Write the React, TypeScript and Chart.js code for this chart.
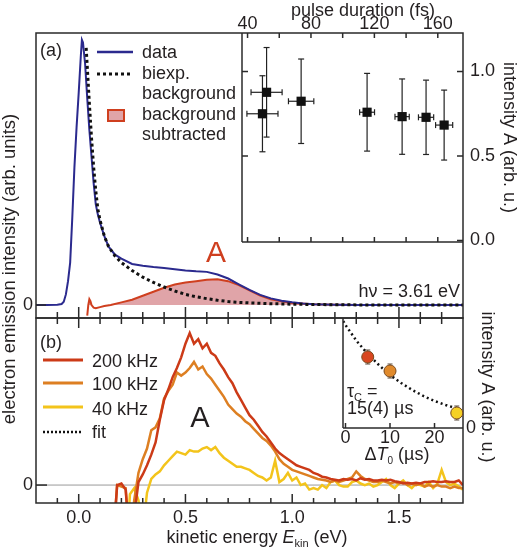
import React, { useEffect, useRef } from "react";
import { Chart, registerables } from "chart.js";

Chart.register(...registerables);

const FONT = '"Liberation Sans", Arial, Helvetica, sans-serif';
const INK = "#231f20";
const FRAME = "#2a2a2a";
const NAVY = "#2b2a8e";
const RED_A = "#cf3f1f";
const PINK = "#e0a4a8";
const C200 = "#cc3a17";
const C100 = "#dd7f22";
const C40 = "#f3c41b";

// ---------- panel (a): photoemission spectrum ----------
const energyData = [-0.2, -0.15, -0.1, -0.08, -0.07, -0.06, -0.05, -0.04, -0.03, -0.02, -0.01, 0.0, 0.01, 0.015, 0.02, 0.03, 0.04, 0.05, 0.06, 0.07, 0.08, 0.09, 0.1, 0.12, 0.14, 0.17, 0.2, 0.25, 0.3, 0.35, 0.4, 0.45, 0.5, 0.55, 0.6, 0.65, 0.7, 0.75, 0.8, 0.85, 0.9, 0.95, 1.0, 1.05, 1.1, 1.2, 1.3, 1.4, 1.5, 1.6, 1.7, 1.8];
const intensityData = [0, 0, 0.001, 0.004, 0.012, 0.04, 0.09, 0.16, 0.33, 0.52, 0.67, 0.8, 0.94, 1.0, 0.99, 0.91, 0.78, 0.66, 0.56, 0.46, 0.38, 0.34, 0.31, 0.26, 0.22, 0.19, 0.175, 0.155, 0.148, 0.143, 0.14, 0.135, 0.13, 0.127, 0.125, 0.115, 0.1, 0.078, 0.057, 0.038, 0.025, 0.016, 0.01, 0.006, 0.003, 0.001, 0, 0, 0, 0, 0, 0];

const energyBiexp = [0.035, 0.04, 0.05, 0.06, 0.07, 0.08, 0.09, 0.1, 0.12, 0.14, 0.17, 0.2, 0.25, 0.3, 0.35, 0.4, 0.45, 0.5, 0.55, 0.6, 0.65, 0.7, 0.75, 0.8, 0.9, 1.0, 1.1, 1.2, 1.4, 1.6, 1.8];
const biexpBackground = [0.97, 0.9, 0.76, 0.63, 0.52, 0.43, 0.36, 0.32, 0.26, 0.22, 0.185, 0.16, 0.13, 0.105, 0.085, 0.068, 0.053, 0.04, 0.031, 0.024, 0.018, 0.013, 0.01, 0.008, 0.005, 0.003, 0.002, 0.001, 0, 0, 0];

const energySubtracted = [0.04, 0.045, 0.05, 0.055, 0.06, 0.07, 0.08, 0.1, 0.12, 0.15, 0.2, 0.25, 0.3, 0.35, 0.4, 0.45, 0.5, 0.55, 0.6, 0.65, 0.7, 0.75, 0.8, 0.85, 0.9, 0.95, 1.0, 1.1, 1.2, 1.3, 1.4, 1.5, 1.6, 1.7, 1.8];
const backgroundSubtracted = [-0.04, 0.0, 0.022, 0.015, 0.0, -0.01, -0.012, -0.008, -0.004, 0.0, 0.01, 0.02, 0.035, 0.05, 0.065, 0.077, 0.085, 0.09, 0.095, 0.097, 0.09, 0.075, 0.055, 0.036, 0.022, 0.014, 0.008, 0.003, 0.001, 0, 0, 0, 0, 0, 0];

// ---------- inset (a): intensity A vs pulse duration ----------
const pulseDuration = [49.4, 52, 73.8, 115.4, 137.5, 152.6, 164];
const pulseDurationErr = [9.8, 9.8, 8, 4.7, 4.5, 4.8, 5.4];
const intensityA = [0.75, 0.877, 0.824, 0.759, 0.733, 0.729, 0.683];
const intensityAErr = [0.225, 0.265, 0.25, 0.23, 0.223, 0.22, 0.207];
const pulseTicks = [40, 80, 120, 160];
const insetATicks = [0, 0.5, 1.0];

// ---------- panel (b): repetition-rate dependence ----------
const energyB = [
  0.16, 0.18, 0.2, 0.22, 0.24, 0.26, 0.28, 0.3, 0.32, 0.34,
  0.36, 0.38, 0.4, 0.42, 0.44, 0.46, 0.48, 0.5, 0.52, 0.54,
  0.56, 0.58, 0.6, 0.62, 0.64, 0.66, 0.68, 0.7, 0.72, 0.74,
  0.76, 0.78, 0.8, 0.82, 0.84, 0.86, 0.88, 0.9, 0.92, 0.94,
  0.96, 0.98, 1.0, 1.02, 1.04, 1.06, 1.08, 1.1, 1.12, 1.14,
  1.16, 1.18, 1.2, 1.22, 1.24, 1.26, 1.28, 1.3, 1.32, 1.34,
  1.36, 1.38, 1.4, 1.42, 1.44, 1.46, 1.48, 1.5, 1.52, 1.54,
  1.56, 1.58, 1.6, 1.62, 1.64, 1.66, 1.68, 1.7, 1.72, 1.74,
  1.76, 1.78, 1.8,
];
const rate200kHz = [
  -0.4, 0.0, 0.01, -0.03, -0.4, -0.2, 0.02, 0.07, 0.13, 0.2,
  0.28, 0.43, 0.56, 0.63, 0.71, 0.77, 0.84, 0.93, 1.0, 0.93,
  0.96, 0.9, 0.93, 0.87, 0.85, 0.8, 0.76, 0.71, 0.67, 0.61,
  0.56, 0.51, 0.46, 0.43, 0.39, 0.35, 0.32, 0.28, 0.24, 0.21,
  0.19, 0.17, 0.15, 0.13, 0.12, 0.11, 0.1, 0.08, 0.07, 0.055,
  0.05, 0.04, 0.035, 0.03, 0.04, 0.035, 0.04, 0.03, 0.045, 0.035,
  0.04, 0.03, 0.03, 0.035, 0.03, 0.035, 0.025, 0.02, 0.01, 0.015,
  0.01, 0.015, 0.01, 0.02, 0.02, 0.025, 0.02, 0.02, 0.025, 0.02,
  0.02, 0.03, 0.0,
];
const rate100kHz = [
  -0.4, 0.0, -0.01, -0.02, -0.4, -0.1, 0.08, 0.17, 0.24, 0.36,
  0.38, 0.44, 0.57, 0.62, 0.66, 0.74, 0.72, 0.74, 0.77, 0.81,
  0.76, 0.78, 0.73, 0.7, 0.66, 0.62, 0.58, 0.53, 0.5, 0.47,
  0.45, 0.42, 0.4, 0.37, 0.34, 0.31, 0.29, 0.26, 0.22, 0.17,
  0.14, 0.12, 0.1, 0.09, 0.08, 0.07, 0.06, 0.05, 0.04, 0.035,
  0.03, 0.02, 0.03, 0.02, 0.03, 0.04, 0.05, 0.09, 0.06, 0.04,
  0.03, 0.02, 0.02, 0.03, 0.02, 0.01, 0.02, 0.01, 0.02, 0.0,
  0.01, 0.0, 0.01, -0.01, 0.0, -0.01, 0.0, -0.01, -0.01, -0.02,
  -0.01, -0.02, -0.02,
];
const rate40kHz = [
  -0.5, -0.5, -0.5, -0.5, -0.06, -0.02, -0.1, -0.3, -0.05, 0.04,
  0.07, 0.09, 0.13, 0.16, 0.19, 0.22, 0.21, 0.2, 0.23, 0.22,
  0.22, 0.24, 0.25, 0.23, 0.25, 0.21, 0.18, 0.16, 0.14, 0.12,
  0.12, 0.11, 0.1, 0.08, 0.06, 0.05, 0.03, 0.05, 0.16, 0.02,
  0.04, 0.08, 0.03, 0.05, 0.0, 0.01, -0.03, -0.02, -0.03, 0.0,
  -0.02, 0.02, 0.03, 0.0, -0.01, -0.01, 0.02, 0.03, 0.01, 0.0,
  0.01, -0.01, 0.0, 0.02, 0.04, 0.0, -0.02, 0.01, 0.03, 0.0,
  -0.02, 0.01, 0.0, -0.01, 0.02, -0.02, 0.01, 0.1, 0.02, 0.0,
  0.01, -0.01, -0.03,
];
const energyTicks = [0, 0.5, 1.0, 1.5];

// ---------- inset (b): intensity A vs ΔT0 ----------
const deltaT0 = [5, 10, 25];
const intensityB = [0.71, 0.57, 0.15];
const intensityBErr = [0.07, 0.07, 0.07];
const pointColorsB = ["#d8461f", "#e08a2c", "#f5d126"];
const fitT = [-0.5, 0, 2.5, 5, 7.5, 10, 12.5, 15, 17.5, 20, 22.5, 25];
const fitIntensity = [1.07, 1.03, 0.87, 0.74, 0.63, 0.53, 0.45, 0.38, 0.32, 0.27, 0.23, 0.195];
const deltaTicks = [0, 10, 20];

// ---------- helpers ----------
const pts = (xs: number[], ys: number[]) => xs.map((x, i) => ({ x, y: ys[i] }));
const tickFont = { family: FONT, size: 18, lineHeight: 1 };
const setTicks = (vals: number[]) => (s: any) => {
  s.ticks = vals.map((v) => ({ value: v }));
};
const fixW = (w: number) => (s: any) => {
  s.width = w;
};
const fixH = (h: number) => (s: any) => {
  s.height = h;
};
const noGrid = { display: false, drawTicks: false };
const noBorder = { display: false };

function seg(ctx: CanvasRenderingContext2D, x1: number, y1: number, x2: number, y2: number) {
  ctx.beginPath();
  ctx.moveTo(x1, y1);
  ctx.lineTo(x2, y2);
  ctx.stroke();
}

type Run = { t: string; size?: number; italic?: boolean; dy?: number };
function drawRuns(ctx: CanvasRenderingContext2D, parts: Run[], x: number, y: number, align = "left", color = INK) {
  ctx.save();
  ctx.fillStyle = color;
  ctx.textBaseline = "alphabetic";
  ctx.textAlign = "left";
  const fontOf = (p: Run) => `${p.italic ? "italic " : ""}${p.size ?? 18}px ${FONT}`;
  let total = 0;
  const widths = parts.map((p) => {
    ctx.font = fontOf(p);
    const w = ctx.measureText(p.t).width;
    total += w;
    return w;
  });
  let cx = align === "left" ? x : align === "center" ? x - total / 2 : x - total;
  parts.forEach((p, i) => {
    ctx.font = fontOf(p);
    ctx.fillText(p.t, cx, y + (p.dy ?? 0));
    cx += widths[i];
  });
  ctx.restore();
}

function drawText(
  ctx: CanvasRenderingContext2D,
  s: string,
  x: number,
  y: number,
  o: { size?: number; align?: CanvasTextAlign; color?: string; rotate?: number; baseline?: CanvasTextBaseline } = {}
) {
  ctx.save();
  ctx.font = `${o.size ?? 18}px ${FONT}`;
  ctx.fillStyle = o.color ?? INK;
  ctx.textAlign = o.align ?? "left";
  ctx.textBaseline = o.baseline ?? "alphabetic";
  ctx.translate(x, y);
  if (o.rotate) ctx.rotate(o.rotate);
  ctx.fillText(s, 0, 0);
  ctx.restore();
}

function xTicks(ctx: CanvasRenderingContext2D, scale: any, yEdge: number, dir: number, minor: number, major: number) {
  for (let k = -1; k <= 17; k++) {
    const px = scale.getPixelForValue(k / 10);
    const len = k % 5 === 0 ? major : minor;
    seg(ctx, px, yEdge, px, yEdge + dir * len);
  }
}

const baseOptions = (padding: any) => ({
  responsive: false,
  animation: false as const,
  devicePixelRatio: 1,
  events: [] as any[],
  layout: { padding },
  plugins: { legend: { display: false }, tooltip: { enabled: false }, title: { display: false } },
});

// ---------- chart configs ----------
function configTop(): any {
  const plugin = {
    id: "panelA",
    afterDraw(chart: any) {
      const { ctx, chartArea: a, scales } = chart;
      ctx.save();
      ctx.strokeStyle = FRAME;
      ctx.lineWidth = 1.5;
      ctx.strokeRect(a.left, a.top, a.right - a.left, a.bottom - a.top);
      xTicks(ctx, scales.x, a.bottom, -1, 6, 11);
      const y0 = scales.y.getPixelForValue(0);
      seg(ctx, a.left, y0, a.left + 10, y0);
      ctx.restore();

      drawText(ctx, "(a)", 40, 56);
      // legend
      ctx.save();
      ctx.strokeStyle = NAVY;
      ctx.lineWidth = 2.5;
      seg(ctx, 97, 52, 133, 52);
      ctx.strokeStyle = "#111";
      ctx.lineWidth = 3;
      ctx.setLineDash([3, 3]);
      seg(ctx, 97, 74, 133, 74);
      ctx.setLineDash([]);
      ctx.fillStyle = PINK;
      ctx.fillRect(108, 110, 16, 11);
      ctx.strokeStyle = RED_A;
      ctx.lineWidth = 2;
      ctx.strokeRect(108, 110, 16, 11);
      ctx.restore();
      drawText(ctx, "data", 142, 58);
      drawText(ctx, "biexp.", 142, 79);
      drawText(ctx, "background", 142, 99);
      drawText(ctx, "background", 142, 120);
      drawText(ctx, "subtracted", 142, 140);

      drawText(ctx, "A", 216, 262, { size: 30, align: "center", color: RED_A });
      drawText(ctx, "h\u03bd = 3.61 eV", 460, 297, { align: "right" });
    },
  };
  return {
    type: "line",
    data: {
      datasets: [
        {
          label: "biexp. background",
          data: pts(energyBiexp, biexpBackground),
          borderColor: "#111",
          borderWidth: 3,
          borderDash: [3, 3],
          pointRadius: 0,
          fill: false,
          order: 0,
        },
        {
          label: "data",
          data: pts(energyData, intensityData),
          borderColor: NAVY,
          borderWidth: 2,
          pointRadius: 0,
          fill: false,
          order: 1,
        },
        {
          label: "background subtracted",
          data: pts(energySubtracted, backgroundSubtracted),
          borderColor: RED_A,
          borderWidth: 2,
          pointRadius: 0,
          fill: { target: "origin", above: PINK, below: "rgba(0,0,0,0)" },
          order: 2,
        },
      ],
    },
    options: {
      ...baseOptions({ top: 33, left: 0, right: 57, bottom: 231 }),
      scales: {
        x: { type: "linear", display: false, min: -0.2, max: 1.8 },
        y: {
          type: "linear",
          position: "left",
          min: -0.049,
          max: 1.026,
          afterBuildTicks: setTicks([0]),
          afterFit: fixW(36),
          ticks: { font: tickFont, color: INK, padding: 3, callback: () => "0" },
          grid: noGrid,
          border: noBorder,
        },
      },
    },
    plugins: [plugin],
  };
}

function configBottom(): any {
  const plugin = {
    id: "panelB",
    beforeDatasetsDraw(chart: any) {
      const { ctx, chartArea: a, scales } = chart;
      const y0 = scales.y.getPixelForValue(0);
      ctx.save();
      ctx.strokeStyle = "#9a9a9a";
      ctx.lineWidth = 1;
      seg(ctx, a.left, y0, a.right, y0);
      ctx.restore();
    },
    afterDraw(chart: any) {
      const { ctx, chartArea: a, scales } = chart;
      ctx.save();
      ctx.strokeStyle = FRAME;
      ctx.lineWidth = 1.5;
      ctx.strokeRect(a.left, a.top, a.right - a.left, a.bottom - a.top);
      xTicks(ctx, scales.x, a.top, 1, 6, 10);
      xTicks(ctx, scales.x, a.bottom, -1, 5, 9);
      const y0 = scales.y.getPixelForValue(0);
      seg(ctx, a.left, y0, a.left + 11, y0);
      ctx.restore();

      drawText(ctx, "(b)", 40, 348);
      ctx.save();
      ctx.lineWidth = 3;
      ctx.strokeStyle = C200;
      seg(ctx, 43, 360, 83, 360);
      ctx.strokeStyle = C100;
      seg(ctx, 43, 383, 83, 383);
      ctx.strokeStyle = C40;
      seg(ctx, 43, 407, 83, 407);
      ctx.strokeStyle = "#111";
      ctx.lineWidth = 2.5;
      ctx.setLineDash([2, 2]);
      seg(ctx, 43, 432, 83, 432);
      ctx.restore();
      drawText(ctx, "200 kHz", 92, 367);
      drawText(ctx, "100 kHz", 92, 390);
      drawText(ctx, "40 kHz", 92, 415);
      drawText(ctx, "fit", 92, 438);
      drawText(ctx, "A", 200, 427, { size: 29, align: "center" });

      drawRuns(
        ctx,
        [
          { t: "kinetic energy " },
          { t: "E", italic: true },
          { t: "kin", size: 11, dy: 4 },
          { t: " (eV)" },
        ],
        257,
        543,
        "center"
      );
      drawText(ctx, "electron emission intensity (arb. units)", 10, 269, {
        size: 18.5,
        align: "center",
        baseline: "middle",
        rotate: -Math.PI / 2,
      });
    },
  };
  return {
    type: "line",
    data: {
      datasets: [
        { label: "200 kHz", data: pts(energyB, rate200kHz), borderColor: C200, borderWidth: 2.5, pointRadius: 0, order: 0 },
        { label: "100 kHz", data: pts(energyB, rate100kHz), borderColor: C100, borderWidth: 2.5, pointRadius: 0, order: 1 },
        { label: "40 kHz", data: pts(energyB, rate40kHz), borderColor: C40, borderWidth: 2.5, pointRadius: 0, order: 2 },
      ],
    },
    options: {
      ...baseOptions({ top: 318, left: 0, right: 57, bottom: 0 }),
      scales: {
        x: {
          type: "linear",
          position: "bottom",
          min: -0.2,
          max: 1.8,
          afterBuildTicks: setTicks(energyTicks),
          afterFit: fixH(46),
          ticks: {
            font: tickFont,
            color: INK,
            padding: 6,
            maxRotation: 0,
            autoSkip: false,
            callback: (v: any) => Number(v).toFixed(1),
          },
          grid: noGrid,
          border: noBorder,
        },
        y: {
          type: "linear",
          position: "left",
          min: -0.118,
          max: 1.099,
          afterBuildTicks: setTicks([0]),
          afterFit: fixW(36),
          ticks: { font: tickFont, color: INK, padding: 3, callback: () => "0" },
          grid: noGrid,
          border: noBorder,
        },
      },
    },
    plugins: [plugin],
  };
}

function configInsetA(): any {
  const plugin = {
    id: "insetA",
    beforeDatasetsDraw(chart: any) {
      const { ctx, scales } = chart;
      const xs = scales.x;
      const ys = scales.y;
      ctx.save();
      ctx.strokeStyle = "#222";
      ctx.lineWidth = 1.2;
      pulseDuration.forEach((p, i) => {
        const px = xs.getPixelForValue(p);
        const py = ys.getPixelForValue(intensityA[i]);
        const yt = ys.getPixelForValue(intensityA[i] + intensityAErr[i]);
        const yb = ys.getPixelForValue(intensityA[i] - intensityAErr[i]);
        const xl = xs.getPixelForValue(p - pulseDurationErr[i]);
        const xr = xs.getPixelForValue(p + pulseDurationErr[i]);
        seg(ctx, px, yt, px, yb);
        seg(ctx, px - 3, yt, px + 3, yt);
        seg(ctx, px - 3, yb, px + 3, yb);
        seg(ctx, xl, py, xr, py);
        seg(ctx, xl, py - 3, xl, py + 3);
        seg(ctx, xr, py - 3, xr, py + 3);
      });
      ctx.restore();
    },
    afterDraw(chart: any) {
      const { ctx, chartArea: a, scales } = chart;
      ctx.save();
      ctx.strokeStyle = FRAME;
      ctx.lineWidth = 1.5;
      seg(ctx, a.left, a.top, a.left, a.bottom);
      seg(ctx, a.left, a.bottom, a.right, a.bottom);
      for (let f = 40; f <= 160; f += 20) {
        const px = scales.x.getPixelForValue(f);
        seg(ctx, px, a.top, px, a.top + 5);
        seg(ctx, px, a.bottom, px, a.bottom - 5);
      }
      [0, 0.5, 1].forEach((v) => {
        const py = scales.y.getPixelForValue(v);
        if (v > 0) seg(ctx, a.left, py, a.left + 6, py);
        seg(ctx, a.right, py, a.right - 6, py);
      });
      ctx.restore();
      drawText(ctx, "pulse duration (fs)", 363, 16, { align: "center" });
    },
  };
  return {
    type: "scatter",
    data: {
      datasets: [
        {
          label: "intensity A",
          data: pts(pulseDuration, intensityA),
          pointStyle: "rect",
          pointRadius: 6.5,
          backgroundColor: "#111",
          borderColor: "#111",
          borderWidth: 0,
        },
      ],
    },
    options: {
      ...baseOptions({ top: 0, left: 242, right: 0, bottom: 307 }),
      scales: {
        x: {
          type: "linear",
          position: "top",
          min: 36.5,
          max: 175.9,
          afterBuildTicks: setTicks(pulseTicks),
          afterFit: fixH(33),
          ticks: { font: tickFont, color: INK, padding: 0, maxRotation: 0, autoSkip: false, callback: (v: any) => String(v) },
          grid: noGrid,
          border: noBorder,
        },
        y: {
          type: "linear",
          position: "right",
          min: -0.009,
          max: 1.228,
          afterBuildTicks: setTicks(insetATicks),
          afterFit: fixW(57),
          ticks: { font: tickFont, color: INK, padding: 7, callback: (v: any) => Number(v).toFixed(1) },
          title: {
            display: true,
            text: "intensity A (arb. u.)",
            font: { family: FONT, size: 18 },
            color: INK,
            padding: { top: 0, bottom: 0 },
          },
          grid: noGrid,
          border: noBorder,
        },
      },
    },
    plugins: [plugin],
  };
}

function configInsetB(): any {
  const plugin = {
    id: "insetB",
    beforeDatasetsDraw(chart: any) {
      const { ctx, scales } = chart;
      ctx.save();
      ctx.strokeStyle = "#5a4a3a";
      ctx.lineWidth = 1;
      deltaT0.forEach((t, i) => {
        const px = scales.x.getPixelForValue(t);
        const yt = scales.y.getPixelForValue(intensityB[i] + intensityBErr[i]);
        const yb = scales.y.getPixelForValue(intensityB[i] - intensityBErr[i]);
        seg(ctx, px, yt, px, yb);
        seg(ctx, px - 2.5, yt, px + 2.5, yt);
        seg(ctx, px - 2.5, yb, px + 2.5, yb);
      });
      ctx.restore();
    },
    afterDraw(chart: any) {
      const { ctx, chartArea: a, scales } = chart;
      ctx.save();
      ctx.strokeStyle = FRAME;
      ctx.lineWidth = 1.5;
      seg(ctx, a.left, a.top, a.left, a.bottom);
      seg(ctx, a.left, a.bottom, a.right, a.bottom);
      deltaTicks.forEach((t) => {
        const px = scales.x.getPixelForValue(t);
        seg(ctx, px, a.bottom, px, a.bottom - 5);
      });
      ctx.restore();
      drawRuns(ctx, [{ t: "\u03c4" }, { t: "C", size: 11, dy: 4 }, { t: " =" }], 347, 397);
      drawText(ctx, "15(4) \u00b5s", 347, 414);
      drawRuns(
        ctx,
        [{ t: "\u0394" }, { t: "T", italic: true }, { t: "0", size: 10, dy: 4 }, { t: " (\u00b5s)" }],
        397,
        460,
        "center"
      );
      drawText(ctx, "intensity A (arb. u.)", 487, 387, {
        align: "center",
        baseline: "middle",
        rotate: Math.PI / 2,
      });
    },
  };
  return {
    type: "line",
    data: {
      datasets: [
        {
          label: "fit",
          data: pts(fitT, fitIntensity),
          borderColor: "#111",
          borderWidth: 2.5,
          borderDash: [2, 3],
          pointRadius: 0,
          order: 1,
        },
        {
          label: "intensity A",
          data: pts(deltaT0, intensityB),
          showLine: false,
          pointStyle: "circle",
          pointRadius: 6,
          backgroundColor: pointColorsB,
          borderColor: "#7a4a1e",
          borderWidth: 1,
          order: 0,
        },
      ],
    },
    options: {
      ...baseOptions({ top: 318, left: 343, right: 37, bottom: 101 }),
      scales: {
        x: {
          type: "linear",
          position: "bottom",
          min: -0.56,
          max: 26.4,
          afterBuildTicks: setTicks(deltaTicks),
          afterFit: fixH(20),
          ticks: { font: tickFont, color: INK, padding: 1, maxRotation: 0, autoSkip: false, callback: (v: any) => String(v) },
          grid: noGrid,
          border: noBorder,
        },
        y: {
          type: "linear",
          position: "right",
          min: 0,
          max: 1.1,
          afterBuildTicks: setTicks([0]),
          afterFit: fixW(20),
          ticks: { font: tickFont, color: INK, padding: 3, callback: () => "0" },
          grid: noGrid,
          border: noBorder,
        },
      },
    },
    plugins: [plugin],
  };
}

const abs: React.CSSProperties = { position: "absolute", left: 0, top: 0, width: 520, height: 549 };

export default function App() {
  const bRef = useRef<HTMLCanvasElement>(null);
  const tRef = useRef<HTMLCanvasElement>(null);
  const i1Ref = useRef<HTMLCanvasElement>(null);
  const i2Ref = useRef<HTMLCanvasElement>(null);

  useEffect(() => {
    const charts = [
      new Chart(bRef.current as HTMLCanvasElement, configBottom()),
      new Chart(tRef.current as HTMLCanvasElement, configTop()),
      new Chart(i1Ref.current as HTMLCanvasElement, configInsetA()),
      new Chart(i2Ref.current as HTMLCanvasElement, configInsetB()),
    ];
    return () => charts.forEach((c) => c.destroy());
  }, []);

  return (
    <div style={{ ...abs, background: "#ffffff" }}>
      <canvas ref={bRef} width={520} height={549} style={abs} />
      <canvas ref={tRef} width={520} height={549} style={abs} />
      <canvas ref={i1Ref} width={520} height={549} style={abs} />
      <canvas ref={i2Ref} width={520} height={549} style={abs} />
    </div>
  );
}
